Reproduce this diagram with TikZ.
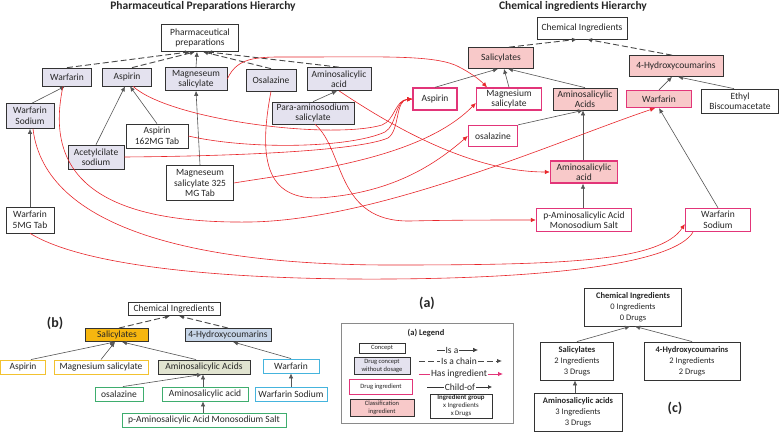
\documentclass[tikz,border=0pt]{standalone}
\usepackage{fontspec}
\setmainfont{Carlito}
\usetikzlibrary{arrows.meta}
\definecolor{lav}{HTML}{E4E2EF}
\definecolor{pinkf}{HTML}{F8C9C9}
\definecolor{mag}{HTML}{E23579}
\definecolor{redl}{HTML}{E8262B}
\definecolor{arr}{HTML}{555555}
\definecolor{bord}{HTML}{333333}
\definecolor{salo}{HTML}{F6B60F}
\definecolor{hydb}{HTML}{C6D5E8}
\definecolor{olivef}{HTML}{E1E4D0}
\definecolor{yelb}{HTML}{F2C230}
\definecolor{cyanb}{HTML}{45B4DD}
\definecolor{greenb}{HTML}{3EAD6E}
\definecolor{legb}{HTML}{8A8A8A}
\tikzset{
 box/.style={draw=bord, line width=0.7pt, fill=white, align=center, inner sep=1pt, font=\fontsize{9.5}{10.5}\selectfont, text=black!85},
 lavbox/.style={box, fill=lav},
 drugbox/.style={box, draw=mag, line width=1.3pt},
 classbox/.style={box, fill=pinkf},
 classdrug/.style={box, fill=pinkf, draw=mag, line width=1.3pt},
 bbox/.style={box, line width=0.9pt},
 cbox/.style={box, line width=0.9pt, font=\fontsize{8.5}{11}\selectfont},
 legsmall/.style={box, font=\fontsize{6.5}{7.5}\selectfont, inner sep=0.5pt},
 titlef/.style={font=\fontsize{11.5}{13}\selectfont\bfseries, text=black!85, inner sep=0pt},
 lbl/.style={font=\fontsize{14}{16}\selectfont\bfseries, text=black!85, inner sep=0pt},
 legtxt/.style={font=\fontsize{9.5}{11}\selectfont, text=black!85, inner sep=0.8pt},
 isa/.style={draw=arr, line width=0.6pt, -{Latex[length=5pt,width=4.5pt]}},
 chain/.style={draw=arr!85!black, line width=0.9pt, dash pattern=on 6pt off 3pt, -{Latex[length=5pt,width=4.5pt]}},
 hasing/.style={draw=redl, line width=0.6pt, -{Latex[length=5pt,width=4.5pt]}},
 hasingna/.style={draw=redl, line width=0.6pt},
}
\begin{document}
\begin{tikzpicture}[x=1pt,y=-1pt]
\path[use as bounding box] (0,0) rectangle (780,433);
\fill[white] (0,0) rectangle (780,433);

% titles
\node[titlef] (t1) at (203,6) {Pharmaceutical Preparations Hierarchy};
\node[titlef] (t2) at (573,6) {Chemical ingredients Hierarchy};

% ---------- left hierarchy ----------
\node[box, minimum width=77pt, minimum height=27pt] (pp) at (200,38) {Pharmaceutical\\preparations};
\node[lavbox, minimum width=49pt, minimum height=18pt] (warL) at (67,77) {Warfarin};
\node[lavbox, minimum width=49pt, minimum height=18pt] (aspL) at (127,77) {Aspirin};
\node[lavbox, minimum width=62pt, minimum height=23pt] (msL) at (196,79) {Magneseum\\salicylate};
\node[lavbox, minimum width=50pt, minimum height=22pt] (osL) at (271,80) {Osalazine};
\node[lavbox, minimum width=64pt, minimum height=23pt] (amL) at (339,79) {Aminosalicylic\\acid};
\node[lavbox, minimum width=48pt, minimum height=25pt] (wsL) at (30,116) {Warfarin\\Sodium};
\node[lavbox, minimum width=82pt, minimum height=22pt] (para) at (313,113) {Para-aminosodium\\salicylate};
\node[box, minimum width=62pt, minimum height=24pt] (a162) at (157,136) {Aspirin\\162MG Tab};
\node[lavbox, minimum width=56pt, minimum height=24pt] (acet) at (96,157) {Acetylcilate\\sodium};
\node[box, minimum width=67pt, minimum height=35pt] (ms325) at (200,183) {Magneseum\\salicylate 325\\MG Tab};
\node[box, minimum width=48pt, minimum height=26pt] (w5) at (30,220) {Warfarin\\5MG Tab};

% ---------- right hierarchy ----------
\node[box, minimum width=90pt, minimum height=22pt] (ci) at (582,28) {Chemical Ingredients};
\node[classbox, minimum width=65pt, minimum height=21pt] (sal) at (501,58) {Salicylates};
\node[classbox, minimum width=94pt, minimum height=21pt] (hyd) at (676,66) {4-Hydroxycoumarins};
\node[drugbox, minimum width=44pt, minimum height=22pt] (aspR) at (435,99) {Aspirin};
\node[drugbox, minimum width=65pt, minimum height=22pt] (msR) at (509,99) {Magnesium\\salicylate};
\node[classbox, minimum width=64pt, minimum height=22pt] (amsR) at (585,99) {Aminosalicylic\\Acids};
\node[classdrug, minimum width=65pt, minimum height=17pt] (warR) at (659,99) {Warfarin};
\node[box, minimum width=77pt, minimum height=24pt] (ethyl) at (740,101) {Ethyl\\Biscoumacetate};
\node[drugbox, minimum width=49pt, minimum height=21pt] (osR) at (493,136) {osalazine};
\node[classdrug, minimum width=67pt, minimum height=22pt] (amR) at (584,172) {Aminosalicylic\\acid};
\node[drugbox, minimum width=95pt, minimum height=23pt] (pams) at (584,220) {p-Aminosalicylic Acid\\Monosodium Salt};
\node[drugbox, minimum width=65pt, minimum height=23pt] (wsR) at (718,220) {Warfarin\\Sodium};

% left edges
\draw[chain] (warL.north) -- ([xshift=-10pt]pp.south);
\draw[chain] ([xshift=5pt]aspL.north) -- ([xshift=-5pt]pp.south);
\draw[isa] (msL.north) -- ([xshift=-3pt]pp.south);
\draw[chain] (osL.north) -- ([xshift=3pt]pp.south);
\draw[chain] (amL.north) -- ([xshift=7pt]pp.south);
\draw[isa] ([xshift=2pt]wsL.north) -- ([xshift=-2pt]warL.south);
\draw[isa] (a162.north) -- ([xshift=3pt]aspL.south);
\draw[isa] (acet.north) -- ([xshift=-2pt]aspL.south);
\draw[isa] (ms325.north) -- (msL.south);
\draw[isa] (para.north) -- ([xshift=-2pt]amL.south);
\draw[isa] (w5.north) -- (wsL.south);

% right edges
\draw[chain] ([xshift=8pt]sal.north) -- ([xshift=-5pt]ci.south);
\draw[chain] ([xshift=-4pt]hyd.north) -- ([xshift=5pt]ci.south);
\draw[isa] (aspR.north) -- ([xshift=-3pt]sal.south);
\draw[isa] (msR.north) -- ([xshift=3pt]sal.south);
\draw[isa] (amsR.north) -- ([xshift=7pt]sal.south);
\draw[isa] (warR.north) -- ([xshift=-4pt]hyd.south);
\draw[isa] ([xshift=-6pt]ethyl.north) -- ([xshift=2pt]hyd.south);
\draw[isa] (osR.north east) -- ([xshift=-2pt]amsR.south);
\draw[isa] ([xshift=-1pt]amR.north) -- ([xshift=-2pt]amsR.south);
\draw[isa] ([xshift=-1pt]pams.north) -- ([xshift=-1pt]amR.south);
\draw[isa] (wsR.north) -- (warR.south);

% has-ingredient curves
\draw[hasing] (msL.east) .. controls (238,55) and (260,57) .. (300,57) .. controls (380,57) and (430,55) .. (455,65) .. controls (470,72) and (480,80) .. ([xshift=-22pt]msR.north);
\draw[hasing] ([xshift=6pt]aspL.south) .. controls (170,120) and (330,140) .. (382,125) .. controls (395,120) and (395,100) .. (aspR.west);
\draw[hasing] (a162.east) .. controls (250,150) and (350,148) .. (385,132) .. controls (397,125) and (395,100) .. (aspR.west);
\draw[hasing] (acet.east) .. controls (250,156) and (360,150) .. (388,138) .. controls (400,130) and (395,100) .. (aspR.west);
\draw[hasing] (ms325.east) .. controls (300,172) and (420,160) .. ([yshift=-4pt]msR.west);
\draw[hasing] (osL.south) .. controls (258,160) and (265,205) .. (330,197) .. controls (400,190) and (440,160) .. (osR.west);
\draw[hasing] (amL.south) .. controls (390,125) and (470,172) .. (amR.west);
\draw[hasing] ([xshift=2pt]para.south) .. controls (345,150) and (335,222) .. (410,221) .. controls (450,220) and (500,220) .. (pams.west);
\draw[hasing] ([xshift=-4pt]warL.south) .. controls (45,170) and (90,224) .. (250,222) .. controls (380,220) and (560,140) .. ([xshift=-4pt]warR.south);
\draw[hasing] ([xshift=3pt]wsL.south) .. controls (45,230) and (200,265) .. (390,265) .. controls (560,265) and (660,262) .. ([yshift=-4pt]wsR.west);
\draw[hasingna] (w5.south) .. controls (90,270) and (250,280) .. (390,279) .. controls (560,278) and (675,262) .. ([xshift=-25pt]wsR.south);

% ---------- (b) ----------
\node[lbl] (lb) at (55,323) {(b)};
\node[bbox, minimum width=92pt, minimum height=13pt] (bci) at (174,309) {Chemical Ingredients};
\node[bbox, fill=salo, minimum width=63pt, minimum height=13pt] (bsal) at (117,335) {Salicylates};
\node[bbox, fill=hydb, minimum width=86pt, minimum height=13pt] (bhyd) at (228,335) {4-Hydroxycoumarins};
\node[bbox, draw=yelb, minimum width=45pt, minimum height=14pt] (basp) at (23,367) {Aspirin};
\node[bbox, draw=yelb, minimum width=94pt, minimum height=14pt] (bmsal) at (101,367) {Magnesium salicylate};
\node[bbox, fill=olivef, minimum width=92pt, minimum height=14pt] (bams) at (204,367) {Aminosalicylic Acids};
\node[bbox, draw=cyanb, minimum width=56pt, minimum height=14pt] (bwar) at (291,366) {Warfarin};
\node[bbox, draw=greenb, minimum width=48pt, minimum height=14pt] (bosa) at (119,394) {osalazine};
\node[bbox, draw=greenb, minimum width=86pt, minimum height=14pt] (bam) at (205,394) {Aminosalicylic acid};
\node[bbox, draw=cyanb, minimum width=72pt, minimum height=14pt] (bws) at (291,394) {Warfarin Sodium};
\node[bbox, draw=greenb, minimum width=164pt, minimum height=14pt] (bpams) at (204,420) {p-Aminosalicylic Acid Monosodium Salt};

\draw[chain] ([xshift=2pt]bsal.north) -- ([xshift=-4pt]bci.south);
\draw[chain] (bhyd.north) -- ([xshift=5pt]bci.south);
\draw[isa] ([xshift=8pt]basp.north) -- ([xshift=-2pt]bsal.south);
\draw[isa] (bmsal.north) -- ([xshift=-2pt]bsal.south);
\draw[isa] ([xshift=-8pt]bams.north) -- ([xshift=5pt]bsal.south);
\draw[isa] (bwar.north) -- ([xshift=5pt]bhyd.south);
\draw[isa] ([xshift=4pt]bosa.north) -- ([xshift=-2pt]bams.south);
\draw[isa] ([xshift=-2pt]bam.north) -- ([xshift=-1pt]bams.south);
\draw[isa] ([xshift=-1pt]bpams.north) -- ([xshift=-2pt]bam.south);
\draw[isa] (bws.north) -- (bwar.south);

% ---------- (a) legend ----------
\node[lbl] (la) at (427,303) {(a)};
\node[draw=legb, line width=0.8pt, fill=white, minimum width=172pt, minimum height=100pt, inner sep=0pt] (legend) at (427,373) {};
\node[font=\fontsize{8.5}{10}\selectfont\bfseries, text=black!85, inner sep=0pt] (legt) at (426,333) {(a) Legend};
\node[legsmall, minimum width=46pt, minimum height=10pt] (lc) at (382,348) {Concept};
\node[legsmall, fill=lav, minimum width=56pt, minimum height=17pt] (ld) at (382,366) {Drug concept\\without dosage};
\node[legsmall, draw=mag, line width=1.2pt, minimum width=63pt, minimum height=15pt] (ldi) at (381,387) {Drug ingredient};
\node[legsmall, fill=pinkf, minimum width=64pt, minimum height=17pt] (lci) at (382,408) {Classification\\ingredient};
\node[legsmall, font=\fontsize{6.8}{8}\selectfont, minimum width=62pt, minimum height=24pt] (lig) at (461,406) {\textbf{Ingredient group}\\x Ingredients\\x Drugs};

\node[legtxt] (l1t) at (452,350) {Is a};
\coordinate (l1a) at (437,350);
\coordinate (l1b) at (478,350);
\draw[draw=arr!70!black, line width=0.6pt] (l1a) -- (l1t.west);
\draw[isa, draw=arr!70!black] (l1t.east) -- (l1b);

\node[legtxt] (l2t) at (459,361) {Is a chain};
\coordinate (l2a) at (419,361);
\coordinate (l2b) at (502,361);
\draw[chain, -] (l2a) -- (l2t.west);
\draw[chain] (l2t.east) -- (l2b);

\node[legtxt] (l3t) at (459,374) {Has ingredient};
\coordinate (l3a) at (419,374);
\coordinate (l3b) at (503,374);
\draw[draw=mag, line width=0.8pt] (l3a) -- (l3t.west);
\draw[draw=mag, line width=0.8pt, -{Latex[length=5pt,width=4.5pt]}] (l3t.east) -- (l3b);

\node[legtxt] (l4t) at (460,387) {Child-of};
\coordinate (l4a) at (427,387);
\coordinate (l4b) at (492,387);
\draw[draw=black!80, line width=0.6pt] (l4a) -- (l4t.west);
\draw[draw=black!80, line width=0.6pt, -{Latex[length=4pt,width=4pt]}] (l4t.east) -- (l4b);

% ---------- (c) ----------
\node[lbl] (lc3) at (675,408) {(c)};
\node[cbox, minimum width=97pt, minimum height=38pt] (cci) at (633,307) {\textbf{Chemical Ingredients}\\0 Ingredients\\0 Drugs};
\node[cbox, minimum width=73pt, minimum height=38pt] (csal) at (577,361) {\textbf{Salicylates}\\2 Ingredients\\3 Drugs};
\node[cbox, minimum width=96pt, minimum height=38pt] (chyd) at (692,361) {\textbf{4-Hydroxycoumarins}\\2 Ingredients\\2 Drugs};
\node[cbox, minimum width=88pt, minimum height=38pt] (cams) at (578,412) {\textbf{Aminosalicylic acids}\\3 Ingredients\\3 Drugs};
\draw[isa] (csal.north) -- ([xshift=-3pt]cci.south);
\draw[isa] (chyd.north) -- ([xshift=2pt]cci.south);
\draw[isa] ([xshift=-3pt]cams.north) -- ([xshift=-2pt]csal.south);
\end{tikzpicture}
\end{document}
